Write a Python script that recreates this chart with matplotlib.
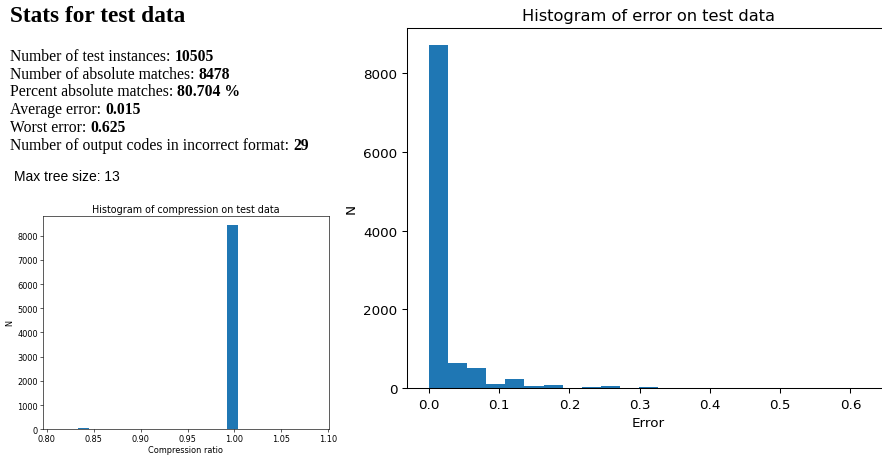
import numpy as np
import matplotlib
matplotlib.use("Agg")
import matplotlib.pyplot as plt

# stats shown above the plots
stat_labels = ["Number of test instances: ", "Number of absolute matches: ",
               "Percent absolute matches: ", "Average error: ", "Worst error: ",
               "Number of output codes in incorrect format: "]
stat_values = ["10505", "8478", "80.704 %", "0.015", "0.625", "29"]
max_tree_size = 13

# error histogram (23 bins from 0 to worst error)
err_edges = np.linspace(0, 0.625, 24)
err_counts = [8716, 642, 516, 110, 245, 51, 76, 5, 25, 50, 3, 25,
              0, 0, 0, 0, 0, 0, 0, 0, 0, 0, 1]

# compression histogram
comp_edges = np.linspace(0.8333, 1.0833, 23)
comp_counts = [35, 0, 0, 0, 0, 0, 0, 0, 0, 0, 0, 0, 0, 0, 8442,
               0, 0, 0, 0, 0, 0, 0]

fig = plt.figure(figsize=(8.82, 4.6), dpi=100)

# text block, on an invisible axes spanning the figure
tax = fig.add_axes([0, 0, 1, 1])
tax.axis("off")
serif = "Liberation Serif"
tax.text(10/882, 1-16/460, "Stats for test data", family=serif, weight="bold",
         fontsize=16.8, va="center")
y = 57
for lab, val in zip(stat_labels, stat_values):
    t = tax.text(10/882, 1-y/460, lab, family=serif, fontsize=11.3, va="center")
    tax.annotate(val, xy=(1, 0), xycoords=t, family=serif, weight="bold",
                 fontsize=11.3, va="bottom", ha="left")
    y += 17.7
tax.text(14/882, 1-177/460, "Max tree size: %d" % max_tree_size,
         family="Liberation Sans", fontsize=10, va="center")

# small compression histogram
ax1 = fig.add_axes([42.7/882, 1-430.3/460, (329.3-42.7)/882, (430.3-216.7)/460])
centers = (comp_edges[:-1] + comp_edges[1:]) / 2
ax1.hist(centers, bins=comp_edges, weights=comp_counts)
ax1.set_xlim(0.7957, 1.101)
ax1.set_ylim(0, 8826)
ax1.set_xticks([0.80, 0.85, 0.90, 0.95, 1.00, 1.05, 1.10])
ax1.set_title("Histogram of compression on test data", fontsize=6.9, pad=3)
ax1.set_xlabel("Compression ratio", fontsize=5.9, labelpad=1.5)
ax1.set_ylabel("N", fontsize=5.9, labelpad=2)
ax1.tick_params(labelsize=5.9, length=1.9, width=0.45, pad=1.5)
for s in ax1.spines.values():
    s.set_linewidth(0.45)

# big error histogram
ax2 = fig.add_axes([407/882, 1-389.3/460, (890-407)/882, (389.3-29.3)/460])
centers = (err_edges[:-1] + err_edges[1:]) / 2
ax2.hist(centers, bins=err_edges, weights=err_counts)
ax2.set_xlim(-0.03125, 0.65625)
ax2.set_ylim(0, 9135)
ax2.set_title("Histogram of error on test data", fontsize=11.7, pad=6)
ax2.set_xlabel("Error", fontsize=9.7)
ax2.set_ylabel("N", fontsize=9.7)
ax2.tick_params(labelsize=9.7, length=3.3, width=0.75)
for s in ax2.spines.values():
    s.set_linewidth(0.75)

fig.savefig("out.png", dpi=100)
